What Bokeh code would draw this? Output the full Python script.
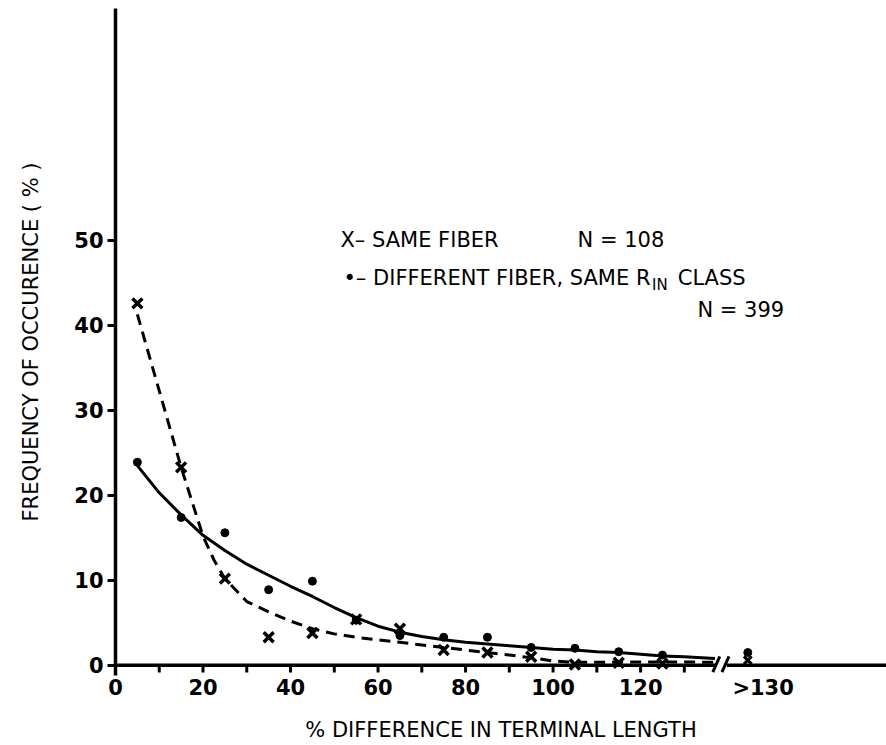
from bokeh.plotting import figure
from bokeh.models import FixedTicker, Label, Range1d
from bokeh.embed import file_html
from bokeh.resources import INLINE

# Bin centres of the % difference in terminal length
bins = [5, 15, 25, 35, 45, 55, 65, 75, 85, 95, 105, 115, 125]
# Frequency of occurrence (%) per bin
same_fiber = [42.6, 23.3, 10.2, 3.3, 3.8, 5.4, 4.3, 1.8, 1.5, 1.0, 0.1, 0.3, 0.2]
diff_fiber = [23.9, 17.4, 15.6, 8.9, 9.9, 5.3, 3.5, 3.3, 3.3, 2.1, 2.0, 1.6, 1.2]
# Open-ended ">130" bin, drawn past the axis break
over_x = [144.5]
same_over = [0.6]
diff_over = [1.5]

# Hand-fitted trend curves
same_fit_x = [5, 10, 15, 20, 22.5, 25, 30, 35, 40, 45, 50, 55, 60, 65, 70, 75, 80,
              85, 90, 95, 100, 105, 110, 120, 130, 137]
same_fit_y = [41.3, 32.3, 23.3, 15.2, 12.4, 10.2, 7.5, 6.3, 5.2, 4.3, 3.7, 3.3, 3.0,
              2.7, 2.4, 2.1, 1.8, 1.5, 1.2, 0.9, 0.5, 0.35, 0.35, 0.4, 0.4, 0.35]
diff_fit_x = [5, 10, 15, 20, 25, 30, 35, 40, 45, 50, 55, 60, 65, 70, 75, 80, 85, 90,
              95, 100, 105, 110, 115, 120, 125, 130, 137]
diff_fit_y = [23.5, 20.3, 17.7, 15.3, 13.5, 11.9, 10.6, 9.3, 8.1, 6.8, 5.6, 4.6, 3.9,
              3.4, 3.0, 2.7, 2.5, 2.3, 2.1, 1.9, 1.8, 1.6, 1.5, 1.3, 1.1, 1.0, 0.8]

x_ticks = [0, 10, 20, 30, 40, 50, 60, 70, 80, 90, 100, 110, 120, 130]
x_tick_labels = [0, 20, 40, 60, 80, 100, 120]
over_label_at = 148
y_ticks = [0, 10, 20, 30, 40, 50]

FONT = "DejaVu Sans"
INK = "black"

X_MAX = 176.2
BREAK_LO, BREAK_HI = 137.4, 139.7

p = figure(width=886, height=745, output_backend="svg", toolbar_location=None,
           x_range=Range1d(0, X_MAX), y_range=Range1d(-1.2, 77.3),
           min_border_left=115, min_border_right=0, min_border_top=8,
           min_border_bottom=70)
p.outline_line_color = None
p.grid.visible = False
p.background_fill_color = "white"
p.border_fill_color = "white"

# y axis
ya = p.yaxis[0]
ya.ticker = FixedTicker(ticks=y_ticks)
ya.minor_tick_line_color = None
ya.axis_line_width = 3.5
ya.axis_line_color = INK
ya.major_tick_line_width = 3
ya.major_tick_line_color = INK
ya.major_tick_in = 0
ya.major_tick_out = 8
ya.major_label_standoff = 4
ya.major_label_text_font = FONT
ya.major_label_text_font_size = "21px"
ya.major_label_text_font_style = "bold"
ya.major_label_text_color = INK
ya.axis_label = "FREQUENCY OF OCCURENCE ( % )"
ya.axis_label_text_font = FONT
ya.axis_label_text_font_size = "21px"
ya.axis_label_text_font_style = "normal"
ya.axis_label_text_color = INK
ya.axis_label_standoff = 28

# x axis: labels and title come from the axis; line and ticks drawn below
xa = p.xaxis[0]
xa.ticker = FixedTicker(ticks=x_tick_labels + [over_label_at])
xa.major_label_overrides = {over_label_at: ">130"}
xa.axis_line_color = None
xa.major_tick_line_color = None
xa.minor_tick_line_color = None
xa.major_tick_in = 0
xa.major_tick_out = 0
xa.major_label_standoff = 0
xa.major_label_text_font = FONT
xa.major_label_text_font_size = "21px"
xa.major_label_text_font_style = "bold"
xa.major_label_text_color = INK
xa.axis_label = "% DIFFERENCE IN TERMINAL LENGTH"
xa.axis_label_text_font = FONT
xa.axis_label_text_font_size = "21px"
xa.axis_label_text_font_style = "normal"
xa.axis_label_text_color = INK
xa.axis_label_standoff = 15

# x axis line with a break before the open-ended bin
p.line([0, BREAK_LO], [0, 0], line_width=3.5, color=INK)
p.line([BREAK_HI, X_MAX], [0, 0], line_width=3.5, color=INK)
p.segment(x0=[136.5, 138.6], y0=[-0.8, -0.8], x1=[138.1, 140.2], y1=[1.06, 1.06],
          line_width=3, color=INK)
p.segment(x0=x_ticks, y0=[0] * len(x_ticks), x1=x_ticks, y1=[-0.85] * len(x_ticks),
          line_width=3, color=INK)

# trend curves
p.line(diff_fit_x, diff_fit_y, line_width=3, color=INK)
p.line(same_fit_x, same_fit_y, line_width=3, color=INK, line_dash="11 7")

# data points
p.scatter(bins, diff_fiber, marker="circle", size=8, color=INK)
p.scatter(over_x, diff_over, marker="circle", size=8, color=INK)
p.scatter(bins, same_fiber, marker="x", size=14, line_width=3.5, color=INK)
p.scatter(over_x, same_over, marker="x", size=11, line_width=3, color=INK)


def note(x, y, text, size="21px", align="left", style="normal"):
    p.add_layout(Label(x=x, y=y, text=text, text_font=FONT, text_font_size=size,
                       text_font_style=style, text_color=INK, text_align=align,
                       text_baseline="middle"))


# key
note(51.4, 50.0, "X\u2013 SAME FIBER")
note(105.6, 50.0, "N = 108")
note(52.1, 45.6, "\u2022\u2013 DIFFERENT FIBER, SAME R")
note(122.6, 44.7, "IN", size="15px")
note(128.5, 45.6, "CLASS")
note(133.0, 41.8, "N = 399")

open("out.html", "w").write(file_html(p, INLINE))
